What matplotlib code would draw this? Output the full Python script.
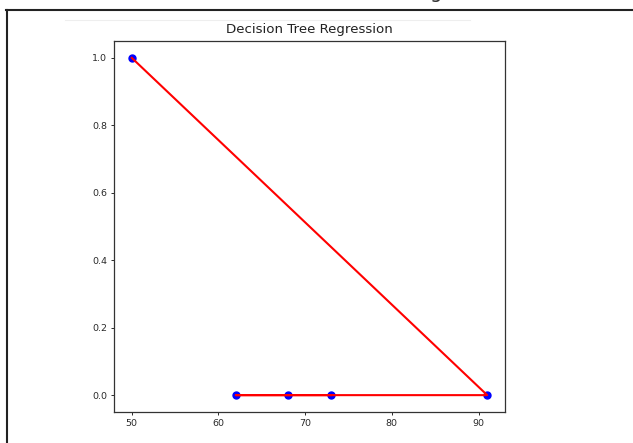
import matplotlib
matplotlib.use("Agg")
import matplotlib.pyplot as plt
from matplotlib.lines import Line2D

# data
x_vals = [50, 91, 62, 68, 73]
y_vals = [1, 0, 0, 0, 0]
y_pred = [1, 0, 0, 0, 0]
x_ticks = [50, 60, 70, 80, 90]
y_ticks = [0.0, 0.2, 0.4, 0.6, 0.8, 1.0]

W, H = 633, 443
fig = plt.figure(figsize=(W / 100, H / 100), dpi=100)

ax = fig.add_axes([114 / W, 1 - 412 / H, (505 - 114) / W, (412 - 41) / H])
ax.scatter(x_vals, y_vals, color="blue", s=25)
ax.plot(x_vals, y_pred, color="red", lw=1.5)
ax.set_xticks(x_ticks)
ax.set_yticks(y_ticks)
ax.tick_params(labelsize=6.8, length=2.5, width=0.7, pad=2.5, colors="#2a2a2a")
for sp in ax.spines.values():
    sp.set_linewidth(0.9)
    sp.set_color("#333333")
ax.set_title("Decision Tree Regression", fontsize=9.6, pad=6, color="#222222")

# screenshot frame bits
def px_line(x0, y0, x1, y1, **kw):
    fig.add_artist(Line2D([x0 / W, x1 / W], [1 - y0 / H, 1 - y1 / H],
                          transform=fig.transFigure, **kw))

px_line(6, 9.5, W, 9.5, color="#222222", lw=1.5)
px_line(7, 9.5, 7, H, color="#222222", lw=1.5)
px_line(65, 20, 470, 20, color="#eeeeee", lw=0.8)
# bottom of a heading that sits above the screenshot
fig.text(430 / W, 1 + 2 / H, "g", fontsize=14, va="baseline", color="#333333")

fig.savefig("out.png", dpi=100)
